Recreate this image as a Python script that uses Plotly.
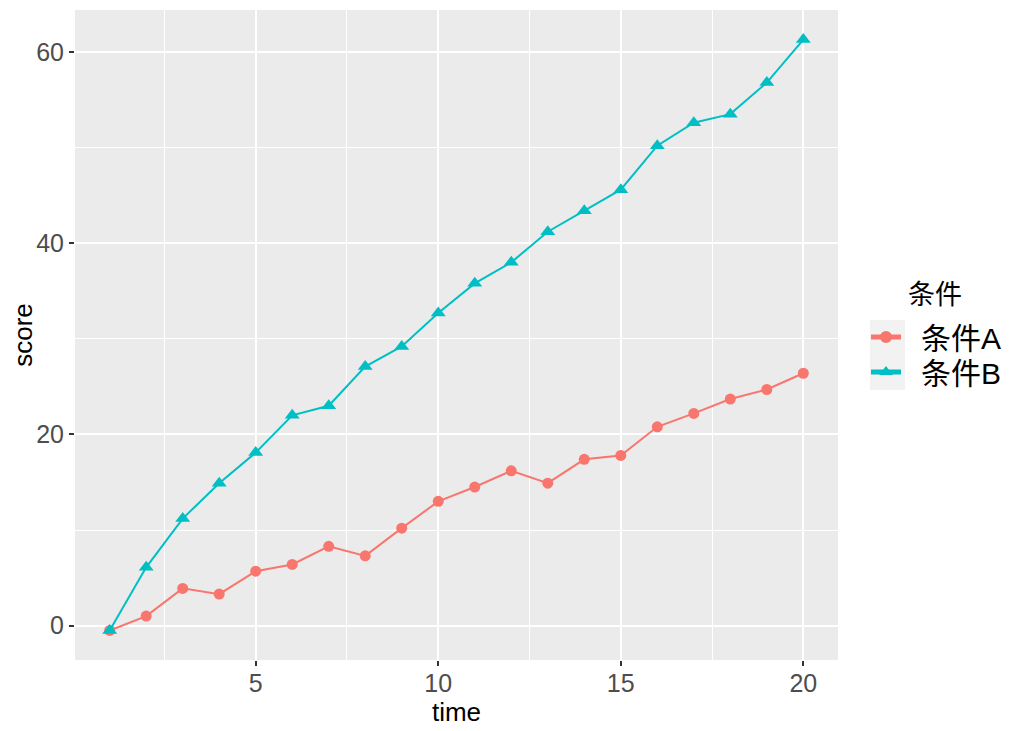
import plotly.graph_objects as go

time = list(range(1, 21))
score_a = [-0.5, 1.0, 3.9, 3.3, 5.7, 6.4, 8.3, 7.3, 10.2, 13.0,
           14.5, 16.2, 14.9, 17.4, 17.8, 20.8, 22.2, 23.7, 24.7, 26.4]
score_b = [-0.5, 6.1, 11.2, 14.9, 18.1, 22.0, 23.0, 27.1, 29.2, 32.7,
           35.8, 38.0, 41.2, 43.4, 45.6, 50.2, 52.6, 53.5, 56.8, 61.3]
series_names = ["条件A", "条件B"]
legend_title = "条件"
colors = ["#F8766D", "#00BFC4"]
x_ticks = [5, 10, 15, 20]
y_ticks = [0, 20, 40, 60]

FONT = "Liberation Sans, Arial, Noto Sans CJK SC, sans-serif"
GAP = "\u2002"  # small gap between legend key and label

# page has an 8px body margin, so the figure is drawn 8px smaller and offset
OFF = 8
W, H = 1024 - OFF, 731 - OFF
ML, MR, MT, MB = 75 - OFF, 186, 10 - OFF, 71
PW, PH = W - ML - MR, H - MT - MB


def px_x(p):
    return (p - OFF - ML) / PW


def px_y(p):
    return (H - MB - (p - OFF)) / PH


fig = go.Figure()
fig.add_trace(go.Scatter(x=time, y=score_a, mode="lines+markers", name=GAP + series_names[0],
                         line=dict(color=colors[0], width=2),
                         marker=dict(symbol="circle", size=11, color=colors[0]),
                         legend="legend", showlegend=True))
fig.add_trace(go.Scatter(x=time, y=score_b, mode="lines+markers", name=GAP + series_names[1],
                         line=dict(color=colors[1], width=2),
                         marker=dict(symbol="triangle-up", size=13, color=colors[1]),
                         legend="legend2", showlegend=True))

xmin, xmax = 1 - 0.05 * 19, 20 + 0.05 * 19
span = max(score_b) - min(score_a)
ymin, ymax = min(score_a) - 0.05 * span, max(score_b) + 0.05 * span

legend_common = dict(
    font=dict(size=30, color="black"),
    xanchor="left", yanchor="middle",
    bgcolor="rgba(0,0,0,0)",
    itemsizing="constant",
    visible=True,
)

fig.update_layout(
    width=W, height=H,
    showlegend=True,
    margin=dict(l=ML, r=MR, t=MT, b=MB, autoexpand=False),
    paper_bgcolor="white",
    plot_bgcolor="#EBEBEB",
    font=dict(family=FONT, color="black"),
    legend=dict(x=px_x(866), y=px_y(337), **legend_common),
    legend2=dict(x=px_x(866), y=px_y(372), **legend_common),
    shapes=[dict(type="rect", xref="paper", yref="paper",
                 x0=px_x(870), x1=px_x(905), y0=px_y(390), y1=px_y(320),
                 fillcolor="#F2F2F2", line=dict(width=0), layer="below")],
    annotations=[dict(text=legend_title, xref="paper", yref="paper",
                      x=px_x(906), y=px_y(295), xanchor="left", yanchor="middle",
                      showarrow=False, font=dict(size=27, color="black"))],
    xaxis=dict(
        range=[xmin, xmax], tickvals=x_ticks, ticktext=[str(v) for v in x_ticks],
        showgrid=True, gridcolor="white", gridwidth=2,
        minor=dict(tickvals=[2.5, 7.5, 12.5, 17.5], showgrid=True, gridcolor="white", gridwidth=1, ticks=""),
        ticks="outside", ticklen=5, tickwidth=1.5, tickcolor="#333333",
        tickfont=dict(size=25, color="#4D4D4D"),
        ticklabelstandoff=-4,
        title=dict(text="time", font=dict(size=26, color="black"), standoff=0),
        zeroline=False, showline=False, automargin=False,
    ),
    yaxis=dict(
        range=[ymin, ymax], tickvals=y_ticks, ticktext=[str(v) for v in y_ticks],
        showgrid=True, gridcolor="white", gridwidth=2,
        minor=dict(tickvals=[10, 30, 50], showgrid=True, gridcolor="white", gridwidth=1, ticks=""),
        ticks="outside", ticklen=5, tickwidth=1.5, tickcolor="#333333",
        tickfont=dict(size=25, color="#4D4D4D"),
        title=dict(text="score", font=dict(size=26, color="black"), standoff=4),
        zeroline=False, showline=False, automargin=False,
    ),
)

fig.write_html("out.html")
